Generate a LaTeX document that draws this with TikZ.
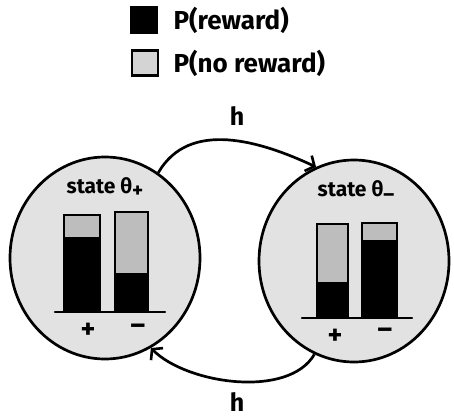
\documentclass[tikz,border=0pt]{standalone}
\usepackage{fontspec}
\setmainfont{Fira Sans}
\usetikzlibrary{arrows.meta,positioning,shapes.geometric}
\definecolor{stategray}{HTML}{E2E2E2}
\definecolor{nogray}{HTML}{BDBDBD}
\definecolor{keygray}{HTML}{D4D4D4}

\begin{document}
\begin{tikzpicture}[x=1pt, y=-1pt,
  >={Straight Barb[length=7pt,width=17pt,line width=2.6pt]},
  state/.style={ellipse, draw, line width=2.7pt, fill=stategray,
    minimum width=190pt, minimum height=202pt, inner sep=0pt},
  key/.style={draw, line width=2.2pt, minimum width=26pt, minimum height=25pt,
    inner sep=0pt},
  keytext/.style={font=\fontsize{26}{29}\selectfont\bfseries, anchor=west},
  title/.style={font=\fontsize{21}{24}\selectfont\bfseries},
  tick/.style={font=\fontsize{28}{28}\selectfont\bfseries},
  barline/.style={draw, line width=2.2pt, fill=nogray},
  axis/.style={line width=2.2pt, line cap=round},
  arr/.style={->, line width=2.7pt}]
\useasboundingbox (0,0) rectangle (454,417);
% legend
\node[key, fill=black] (kr) at (144,20) {};
\node[key, fill=keygray] (kn) at (145,63) {};
\node[keytext, right=12pt of kr] (tr) {P(reward)};
\node[keytext, right=11pt of kn] (tn) {P(no reward)};
% the two states
\node[state] (pos) at (105,258) {};
\node[state] (neg) at (354,261) {};
\node[title] (tpos) at (105,188) {state θ\raisebox{-4pt}{+}};
\node[title] (tneg) at (356,191) {state θ\raisebox{-5pt}{–}};
% bars of state plus
\path[barline] (64,215) rectangle (100,312);
\fill (64,237) rectangle (100,312);
\path[barline] (115,212) rectangle (148,312);
\fill (115,273) rectangle (148,312);
\draw[axis] (55,312) -- (165,312);
\node[tick] (ppos) at (88,331) {+};
\node[tick] (pneg) at (138,329) {–};
% bars of state minus
\path[barline] (317,224) rectangle (348,318);
\fill (317,282) rectangle (348,318);
\path[barline] (362,223) rectangle (397,318);
\fill (362,240) rectangle (397,318);
\draw[axis] (302,318) -- (412,318);
\node[tick] (npos) at (335,337) {+};
\node[tick] (nneg) at (385,333) {–};
% switching between states
\draw[arr] (pos.58) to[out=60, in=155] (neg.112);
\draw[arr] (neg.247) to[out=240, in=-45, looseness=0.8] (pos.297);
\node[title, font=\fontsize{25}{28}\selectfont\bfseries] (htop) at (237,116) {h};
\node[title, font=\fontsize{25}{28}\selectfont\bfseries] (hbot) at (237,402) {h};
\end{tikzpicture}
\end{document}
